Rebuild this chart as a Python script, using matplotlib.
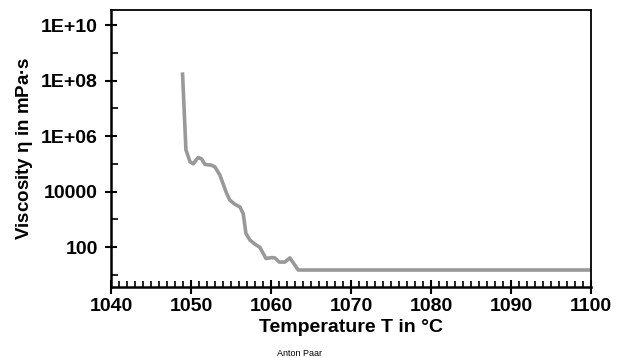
import numpy as np
import matplotlib.pyplot as plt
from matplotlib.ticker import FixedLocator, MultipleLocator, NullFormatter

plt.rcParams['font.family'] = ['Liberation Sans', 'DejaVu Sans']
plt.rcParams['mathtext.default'] = 'regular'

# Viscosity curve while heating (temperature in degC, viscosity in mPa.s)
temperature = [1048.96, 1049.38, 1049.88, 1050.29, 1050.91, 1051.34, 1051.75,
               1052.59, 1053.0, 1053.63, 1054.46, 1054.88, 1055.5, 1056.13,
               1056.54, 1056.88, 1057.38, 1058.0, 1058.63, 1059.38, 1060.09,
               1060.5, 1061.04, 1061.75, 1062.38, 1063.41, 1070.0, 1080.0,
               1090.0, 1100.0]
viscosity = [1.7e8, 3.2e5, 1.2e5, 1.0e5, 1.7e5, 1.5e5, 9.6e4,
             8.9e4, 7.8e4, 3.9e4, 8700, 4900, 3500, 2800,
             1600, 310, 180, 128, 98, 39, 42,
             41, 29, 29, 41, 15, 15, 15,
             15, 15]

y_major = [1e2, 1e4, 1e6, 1e8, 1e10]
y_major_labels = ['100', '10000', '1E+06', '1E+08', '1E+10']
y_minor = [1e1, 1e3, 1e5, 1e7, 1e9]

fig = plt.figure(figsize=(6.3, 3.58), dpi=100)
ax = fig.add_axes([0.176, 0.198, 0.762, 0.774])

ax.plot(temperature, viscosity, color='#999999', lw=2.6, solid_joinstyle='round')

ax.set_yscale('log')
ax.set_xlim(1040, 1100)
ax.set_ylim(10 ** 0.56, 10 ** 10.54)

ax.xaxis.set_major_locator(MultipleLocator(10))
ax.xaxis.set_minor_locator(MultipleLocator(1))
ax.yaxis.set_major_locator(FixedLocator(y_major))
ax.yaxis.set_minor_locator(FixedLocator(y_minor))
ax.yaxis.set_minor_formatter(NullFormatter())
ax.set_yticklabels(y_major_labels)

ax.tick_params(axis='x', which='major', direction='inout', length=10, width=1.5,
               labelsize=14, pad=3)
ax.tick_params(axis='x', which='minor', direction='in', length=4, width=1.2)
ax.tick_params(axis='y', which='major', direction='inout', length=9, width=1.5,
               labelsize=14, pad=5)
ax.tick_params(axis='y', which='minor', direction='in', length=5, width=1.2)
for lab in ax.get_xticklabels() + ax.get_yticklabels():
    lab.set_fontweight('bold')

for side in ['left', 'bottom']:
    ax.spines[side].set_linewidth(1.8)
for side in ['top', 'right']:
    ax.spines[side].set_linewidth(1.3)

ax.set_xlabel('Temperature T in °C', fontsize=14, fontweight='bold', labelpad=3)
ax.set_ylabel(r'Viscosity $\eta$ in mPa·s', fontsize=13.5, fontweight='bold', labelpad=4)

fig.text(0.476, 0.0, 'Anton Paar', fontsize=6.5, ha='center', va='bottom')

fig.savefig('out.png', dpi=100)
